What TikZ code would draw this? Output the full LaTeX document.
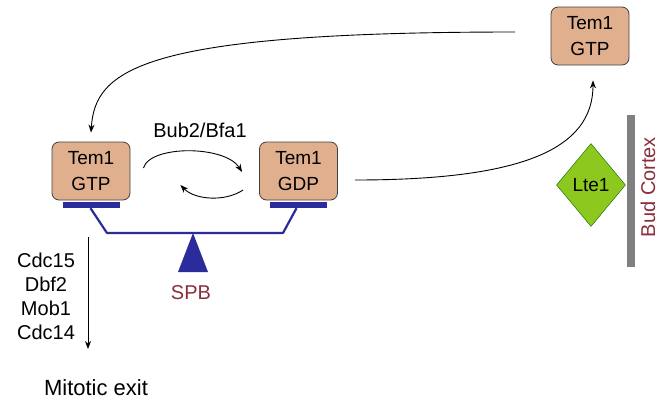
\documentclass[tikz,border=0pt]{standalone}
\usepackage{fontspec}
\setmainfont{Liberation Sans}
\usepackage{xcolor}
\usetikzlibrary{arrows.meta,shapes.geometric}
\definecolor{temtan}{HTML}{E0B08E}
\definecolor{spbblue}{HTML}{2B2B9B}
\definecolor{ltegreen}{HTML}{8CC81E}
\definecolor{spbred}{HTML}{8B2E3C}

\begin{document}
\begin{tikzpicture}[x=1pt,y=-1pt,
  box/.style={draw=black!75,fill=temtan,rounded corners=7pt,align=center,font=\fontsize{19}{26}\selectfont,
    minimum width=78pt,minimum height=58pt,inner sep=0pt,line width=0.8pt},
  bar/.style={fill=spbblue,minimum width=57pt,minimum height=6pt,inner sep=0pt},
  lte/.style={diamond,draw=green!40!black,fill=ltegreen,minimum width=69pt,minimum height=83pt,inner sep=0pt,
    font=\fontsize{19}{22}\selectfont},
  lbl/.style={font=\fontsize{20}{24}\selectfont,align=center,inner sep=0pt},
  arr/.style={-{Stealth[length=8pt,width=6pt]},line width=0.9pt}]
\useasboundingbox (0,0) rectangle (659,408);
\node[box] (gtp) at (91,171) {Tem1\\GTP};
\node[box] (gdp) at (298.5,171) {Tem1\\GDP};
\node[box] (budgtp) at (590,36) {Tem1\\GTP};
\node[bar] (gtpbar) at (91.5,205) {};
\node[bar] (gdpbar) at (298.5,205) {};
\node[lte] (lte) at (591,185) {Lte1};
\node[lbl] (bub) at (200,130) {Bub2/Bfa1};
\node[lbl,text=spbred] (spb) at (191,293) {SPB};
\node[lbl] (mens) at (46,296) {Cdc15\\Dbf2\\Mob1\\Cdc14};
\node[lbl,font=\fontsize{22}{26}\selectfont] (exit) at (96,388) {Mitotic exit};
\node[lbl,text=spbred,rotate=90] (cortex) at (648,187) {Bud Cortex};
\coordinate (topend) at (515,32);
\coordinate (menstop) at (88,237);
\coordinate (mensend) at (88,349);
% spindle pole body
\draw[spbblue,line width=2.2pt,line join=round] (gtpbar.south) ++(-1,0) -- (107,233) -- (283,233) -- ([xshift=-2pt]gdpbar.south);
\fill[spbblue] (193,233) -- (178,272) -- (208,272) -- cycle;
\fill[black!50] (627,115) rectangle (635,267);
% arrows
\draw[arr] (topend) .. controls (140,32) and (95,70) .. ([yshift=9pt]gtp.north);
\draw[arr] ([xshift=13pt,yshift=3pt]gtp.east) .. controls (150,145) and (225,145) .. ([xshift=-17pt,yshift=-1pt]gdp.west);
\draw[arr] ([xshift=-16pt,yshift=-19pt]gdp.west) .. controls (225,202) and (195,200) .. ([xshift=50pt,yshift=-14pt]gtp.east);
\draw[arr] ([xshift=17pt,yshift=-9pt]gdp.east) .. controls (520,180) and (593,150) .. ([xshift=3pt,yshift=-15pt]budgtp.south);
\draw[arr] (menstop) -- (mensend);
\end{tikzpicture}
\end{document}
